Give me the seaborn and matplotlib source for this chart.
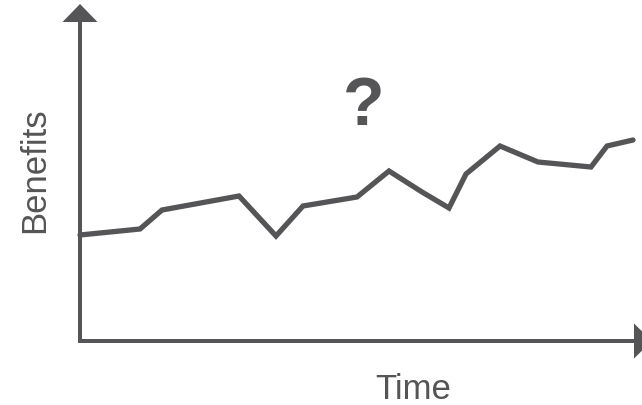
import matplotlib
matplotlib.use("Agg")
import matplotlib.pyplot as plt
import seaborn as sns

# Значения (ось времени и выгода, в условных единицах)
time = [0, 60, 82, 159, 196, 223, 277, 309, 342, 369, 386, 420, 458, 511, 527, 553]
benefits = [106, 112, 131, 145, 105, 135, 144, 170, 149, 133, 167, 195, 179, 174, 195, 201]

ink = "#555557"

sns.set_style("white")
plt.rcParams["font.family"] = ["Liberation Sans", "DejaVu Sans"]

fig = plt.figure(figsize=(6.42, 4.06), dpi=100)
ax = fig.add_axes([0, 0, 1, 1])
ax.set_xlim(-80, 562)
ax.set_ylim(-64, 342)
ax.axis("off")

# Оси со стрелками
ax.arrow(0, -2, 0, 339, width=4, head_width=35, head_length=18,
         length_includes_head=True, color=ink, lw=0)
ax.arrow(-2, 0, 574, 0, width=4, head_width=35, head_length=18,
         length_includes_head=True, color=ink, lw=0)

sns.lineplot(x=time, y=benefits, ax=ax, color=ink, linewidth=3.8,
             solid_joinstyle="miter")

ax.text(284, 217, "?", fontsize=49, fontweight="bold", color=ink,
        ha="center", va="baseline")
ax.text(333, -57, "Time", fontsize=25, color=ink, ha="center", va="baseline")
ax.text(-45, 172, "Benefits", fontsize=25, color=ink, rotation=90,
        ha="center", va="center")

fig.savefig("out.png", dpi=100)
